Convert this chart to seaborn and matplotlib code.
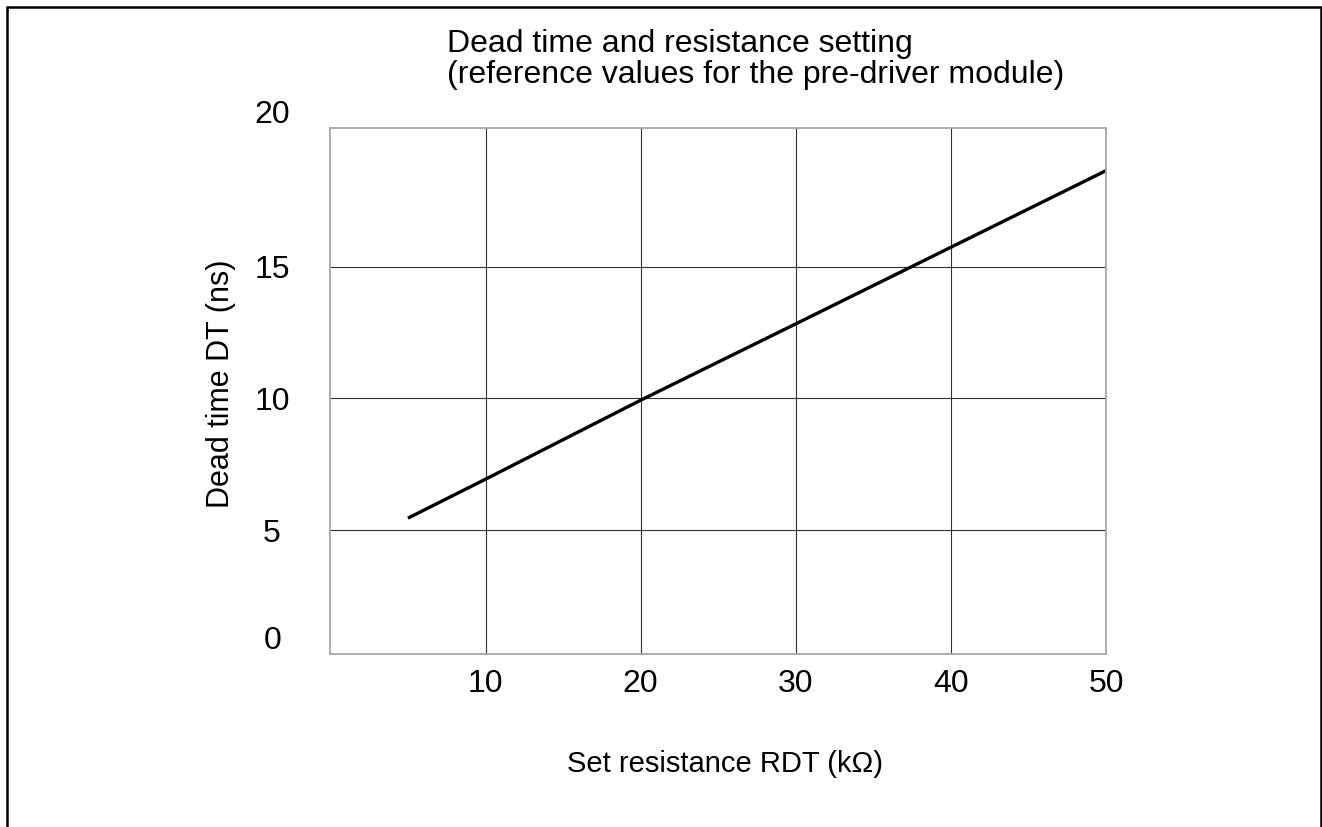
import matplotlib
matplotlib.use("Agg")
import matplotlib.pyplot as plt
import matplotlib.transforms as mtransforms
from matplotlib.patches import Rectangle
import seaborn as sns

# ---- data ----
resistance_kohm = [5, 10, 20, 30, 40, 50]
dead_time_ns = [5.45, 6.93, 9.93, 12.83, 15.74, 18.65]
x_ticks = [10, 20, 30, 40, 50]
y_ticks = [5, 10, 15]
y_edge_labels = [0, 20]
title_lines = ["Dead time and resistance setting",
               "(reference values for the pre-driver module)"]
x_label = "Set resistance RDT (k\u03a9)"
y_label = "Dead time DT (ns)"

sns.set_style("white")
plt.rcParams["font.family"] = ["Liberation Sans", "DejaVu Sans"]
plt.rcParams["text.color"] = "black"
plt.rcParams["axes.labelcolor"] = "black"

W, H = 1322, 827
fig = plt.figure(figsize=(W / 100, H / 100), dpi=100)

ax = fig.add_axes([330.4 / W, 1 - 654 / H, (1106 - 330.4) / W, (654 - 128) / H])

sns.lineplot(x=resistance_kohm, y=dead_time_ns, ax=ax, color="black",
             linewidth=2.4, solid_capstyle="butt")

ax.set_xlim(0, 50)
ax.set_ylim(0.29, 20.27)
ax.set_xticks(x_ticks)
ax.set_yticks(y_ticks)
ax.set_xticklabels([str(v) for v in x_ticks])
ax.set_yticklabels([str(v) for v in y_ticks])

ax.grid(True, color="#333333", linewidth=0.8)
ax.set_axisbelow(True)
for s in ax.spines.values():
    s.set_color("#a6a6a6")
    s.set_linewidth(1.3)
    s.set_visible(True)

ax.tick_params(axis="both", length=0, labelsize=23, colors="black")
ax.tick_params(axis="x", pad=11)
ax.tick_params(axis="y", pad=42)
for lab in ax.get_yticklabels():
    lab.set_horizontalalignment("center")

# labels for 0 and 20 (sit slightly above their nominal positions)
tr = mtransforms.offset_copy(ax.get_yaxis_transform(), fig=fig, x=0, y=20.5, units="dots")
for v in y_edge_labels:
    ax.text((272.5 - 330.4) / (1106 - 330.4), v, str(v), transform=tr,
            ha="center", va="center", fontsize=23, color="black", clip_on=False)

ax.set_xlabel(x_label, fontsize=21)
ax.xaxis.set_label_coords(0.509, -0.209)
ax.xaxis.label.set_va("center")
ax.set_ylabel(y_label, fontsize=22)
ax.yaxis.set_label_coords(-0.141, 0.513)
ax.yaxis.label.set_va("center")

fig.text(447 / W, 1 - 51.7 / H, title_lines[0], ha="left", va="baseline", fontsize=23)
fig.text(447 / W, 1 - 83.3 / H, title_lines[1], ha="left", va="baseline", fontsize=23)

fig.patches.append(Rectangle((6.8 / W, -0.05), (1320.5 - 6.8) / W, 1.05 - 6.8 / H,
                             transform=fig.transFigure, fill=False,
                             edgecolor="black", linewidth=1.8))

fig.savefig("out.png", dpi=100)
